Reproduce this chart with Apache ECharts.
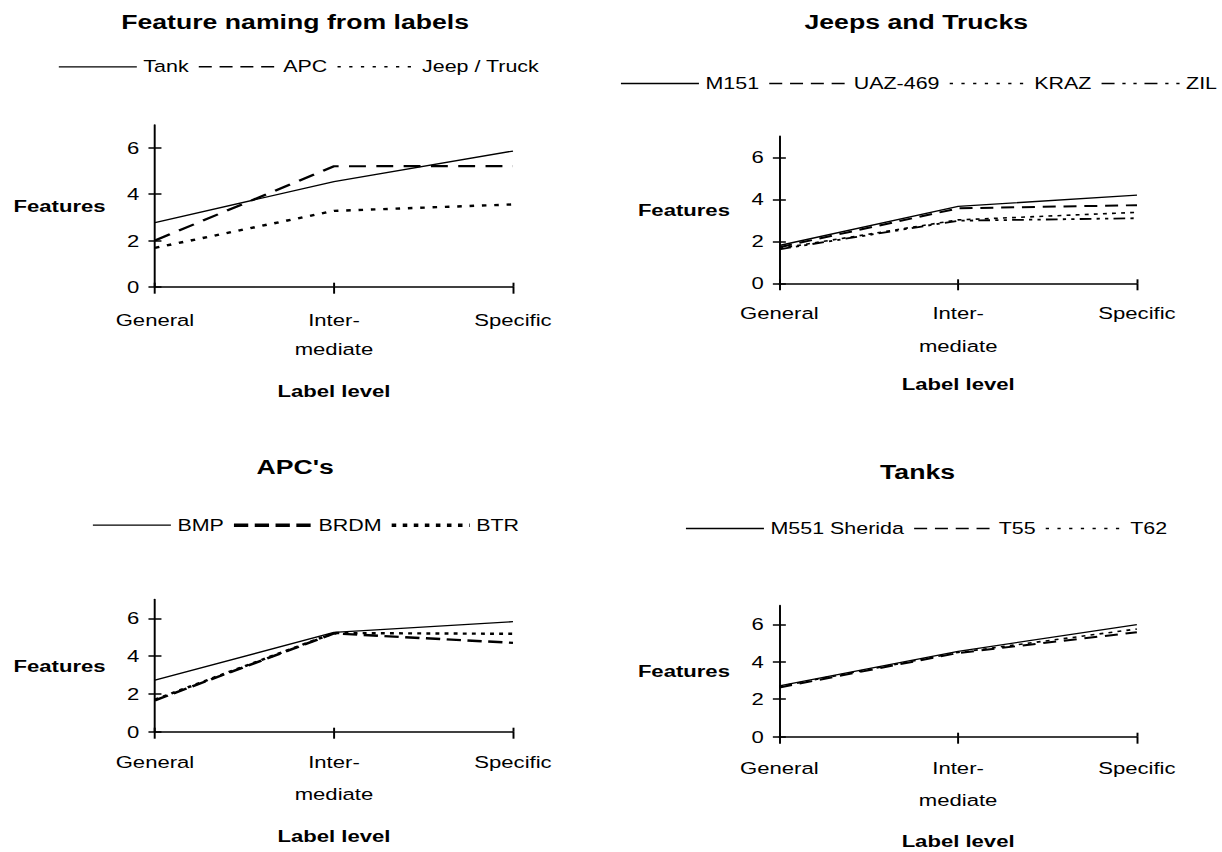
<!DOCTYPE html>
<html>
<head>
<meta charset="utf-8">
<script src="https://cdn.jsdelivr.net/npm/echarts@6/dist/echarts.min.js"></script>
<style>
html,body{margin:0;padding:0;overflow:hidden;background:#fff;width:1222px;height:852px}
#wrap{position:absolute;left:0;top:0;width:1222px;height:852px;overflow:hidden;background:#fff}
#chart{position:absolute;left:0;top:0;width:1000px;height:852px;transform:scaleX(1.3);transform-origin:0 0}
</style>
</head>
<body>
<div id="wrap"><div id="chart"></div></div>
<script>
// ---------- data ----------
const categories = ['General', 'Inter-\nmediate', 'Specific'];
const yTickValues = [0, 2, 4, 6];
const yMax = 7;
const xAxisTitle = 'Label level';
const yAxisTitle = 'Features';

// Panel 1
const p1Title = 'Feature naming from labels';
const p1Names = ['Tank', 'APC', 'Jeep / Truck'];
const p1Tank = [2.77, 4.55, 5.87];
const p1APC = [2.0, 5.21, 5.22];
const p1Jeep = [1.68, 3.28, 3.56];

// Panel 2
const p2Title = 'Jeeps and Trucks';
const p2Names = ['M151', 'UAZ-469', 'KRAZ', 'ZIL'];
const p2M151 = [1.8, 3.66, 4.2];
const p2UAZ = [1.72, 3.57, 3.72];
const p2KRAZ = [1.66, 3.02, 3.38];
const p2ZIL = [1.62, 2.98, 3.1];

// Panel 3
const p3Title = "APC's";
const p3Names = ['BMP', 'BRDM', 'BTR'];
const p3BMP = [2.73, 5.25, 5.82];
const p3BRDM = [1.66, 5.2, 4.7];
const p3BTR = [1.7, 5.22, 5.18];

// Panel 4
const p4Title = 'Tanks';
const p4Names = ['M551 Sherida', 'T55', 'T62'];
const p4M551 = [2.72, 4.56, 5.98];
const p4T55 = [2.63, 4.47, 5.58];
const p4T62 = [2.68, 4.5, 5.75];

// ---------- styles / layout ----------
const FONT = '"Liberation Sans", Arial, Helvetica, sans-serif';
const SOLID = {type: 'solid', width: 1.3};
const SOLID_LEG = {type: 'solid', width: 1.3};

// [name, values, plot line style, legend line style]
const panels = [
  {title: p1Title, tx: 227, ty: 21.7, lx: 44.6, ly: 68.3, gap: 7,
   grid: {left: 119.2, top: 124.9, width: 275.4, height: 161.8},
   xMargin: 18.8, xLH: 29, nameGap: 96,
   series: [[p1Names[0], p1Tank, SOLID, SOLID_LEG],
            [p1Names[1], p1APC, {type: [13, 8], width: 2.2}, {type: [10, 6], width: 1.6}],
            [p1Names[2], p1Jeep, {type: [3.5, 6], width: 2.4}, {type: [2.5, 6.5], width: 1.6}]]},
  {title: p2Title, tx: 704.8, ty: 21.7, lx: 477, ly: 85, gap: 7,
   grid: {left: 599.5, top: 136.3, width: 275.1, height: 147},
   xMargin: 13.5, xLH: 33, nameGap: 92.5,
   series: [[p2Names[0], p2M151, SOLID, SOLID_LEG],
            [p2Names[1], p2UAZ, {type: [10, 6], width: 2}, {type: [10, 6], width: 1.6}],
            [p2Names[2], p2KRAZ, {type: [3, 4], width: 1.6}, {type: [2.5, 6.5], width: 1.6}],
            [p2Names[3], p2ZIL, {type: [9, 4, 2.5, 4, 2.5, 4], width: 1.8}, {type: [10, 6, 2.5, 6, 2.5, 6], width: 1.6}]]},
  {title: p3Title, tx: 227, ty: 466.7, lx: 70.8, ly: 526.7, gap: 6,
   grid: {left: 119.2, top: 599.4, width: 275.4, height: 132.3},
   xMargin: 14, xLH: 32, nameGap: 96,
   series: [[p3Names[0], p3BMP, SOLID, SOLID_LEG],
            [p3Names[1], p3BRDM, {type: [11, 5], width: 2.4}, {type: [11, 5], width: 3.5}],
            [p3Names[2], p3BTR, {type: [3, 4], width: 2.4}, {type: [3.5, 5], width: 3.5}]]},
  {title: p4Title, tx: 705.8, ty: 471.7, lx: 527, ly: 530, gap: 7,
   grid: {left: 599.5, top: 605.6, width: 275, height: 131.1},
   xMargin: 15.6, xLH: 32, nameGap: 96,
   series: [[p4Names[0], p4M551, SOLID, SOLID_LEG],
            [p4Names[1], p4T55, {type: [10, 6], width: 2}, {type: [10, 6], width: 1.6}],
            [p4Names[2], p4T62, {type: [3, 4], width: 1.6}, {type: [2.5, 6.5], width: 1.6}]]}
];

const option = {
  animation: false,
  backgroundColor: '#fff',
  textStyle: {fontFamily: FONT, color: '#000'},
  grid: [], xAxis: [], yAxis: [], series: [], legend: [], graphic: []
};

panels.forEach((p, i) => {
  option.grid.push(Object.assign({containLabel: false}, p.grid));
  option.grid.push(Object.assign({containLabel: false}, p.grid));
  const gMain = 2 * i, gOver = 2 * i + 1;

  option.xAxis.push({
    type: 'category', gridIndex: gMain, data: categories, boundaryGap: false,
    axisLine: {lineStyle: {color: '#000', width: 1.5}},
    axisTick: {show: true, inside: false, length: 7, lineStyle: {color: '#000', width: 1.5}},
    axisLabel: {color: '#000', fontSize: 17, fontFamily: FONT, margin: p.xMargin, lineHeight: p.xLH, interval: 0},
    splitLine: {show: false},
    name: xAxisTitle, nameLocation: 'middle', nameGap: p.nameGap,
    nameTextStyle: {fontSize: 17, fontWeight: 'bold', fontFamily: FONT, color: '#000'}
  });
  option.xAxis.push({
    type: 'category', gridIndex: gOver, data: categories, boundaryGap: false,
    axisLine: {show: false},
    axisTick: {show: true, inside: true, length: 4, lineStyle: {color: '#000', width: 1.5}},
    axisLabel: {show: false}, splitLine: {show: false}
  });
  option.yAxis.push({
    type: 'value', gridIndex: gMain, min: 0, max: yMax, interval: 2, position: 'left',
    axisLine: {show: true, lineStyle: {color: '#000', width: 1.5}},
    axisTick: {show: true, inside: false, length: 5, customValues: yTickValues, lineStyle: {color: '#000', width: 1.5}},
    axisLabel: {color: '#000', fontSize: 17, fontFamily: FONT, margin: 12, customValues: yTickValues},
    splitLine: {show: false},
    name: yAxisTitle, nameLocation: 'middle', nameRotate: 0, nameGap: 38,
    nameTextStyle: {fontSize: 17, fontWeight: 'bold', fontFamily: FONT, color: '#000'}
  });
  option.yAxis.push({
    type: 'value', gridIndex: gOver, min: 0, max: yMax, interval: 2, position: 'left',
    axisLine: {show: false},
    axisTick: {show: true, inside: true, length: 5, customValues: yTickValues, lineStyle: {color: '#000', width: 1.5}},
    axisLabel: {show: false}, splitLine: {show: false}
  });

  p.series.forEach(s => {
    option.series.push({
      type: 'line', name: s[0], data: s[1],
      xAxisIndex: gMain, yAxisIndex: gMain,
      symbol: 'none', showSymbol: false, smooth: false, silent: true,
      lineStyle: Object.assign({color: '#000'}, s[2]),
      itemStyle: {color: '#000'},
      emphasis: {disabled: true}
    });
  });

  option.legend.push({
    left: p.lx, top: p.ly - 10, orient: 'horizontal', padding: 0,
    itemWidth: 60, itemHeight: 20, itemGap: p.gap, selectedMode: false,
    data: p.series.map(s => ({name: s[0], lineStyle: Object.assign({color: '#000'}, s[3])})),
    itemStyle: {opacity: 0},
    textStyle: {fontSize: 16.5, fontFamily: FONT, color: '#000'}
  });

  option.graphic.push({
    type: 'text', x: p.tx, y: p.ty, silent: true,
    style: {text: p.title, fontSize: 20.5, fontWeight: 'bold', fontFamily: FONT, fill: '#000',
            align: 'center', verticalAlign: 'middle', textAlign: 'center', textVerticalAlign: 'middle'}
  });
});

const chart = echarts.init(document.getElementById('chart'), null, {renderer: 'svg', width: 1000, height: 852});
chart.setOption(option);
</script>
</body>
</html>
